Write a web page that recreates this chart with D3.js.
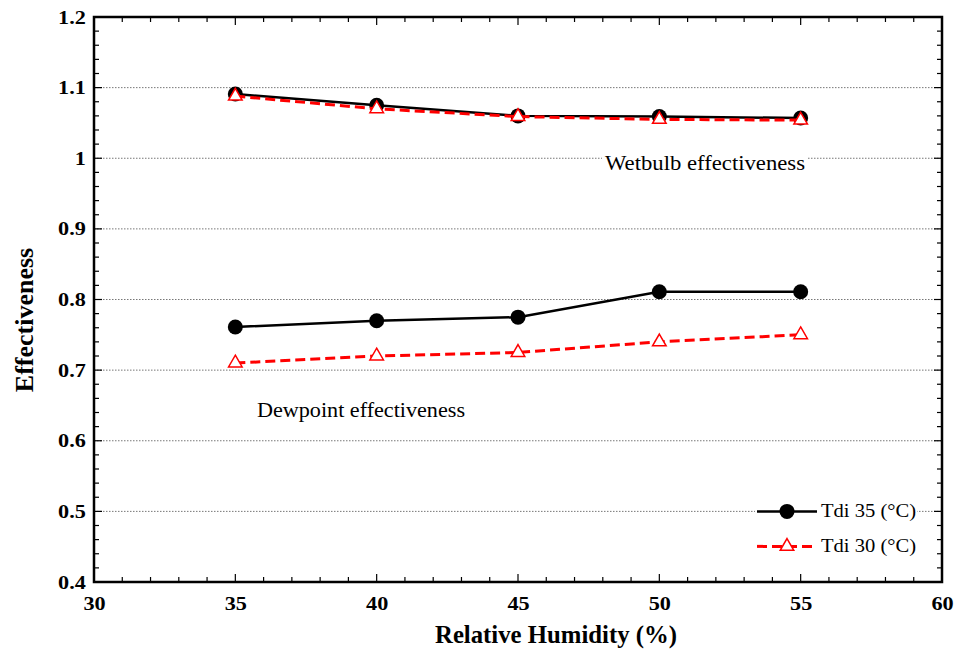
<!DOCTYPE html>
<html><head><meta charset="utf-8">
<script src="https://cdn.jsdelivr.net/npm/d3@7"></script>
<style>body{margin:0;background:#fff}</style>
</head><body>
<svg id="c" width="956" height="650"></svg>
<script>
const rh = [35, 40, 45, 50, 55];
const wetbulb35 = [1.091, 1.075, 1.060, 1.059, 1.057];
const wetbulb30 = [1.088, 1.070, 1.059, 1.055, 1.054];
const dewpoint35 = [0.761, 0.770, 0.775, 0.811, 0.811];
const dewpoint30 = [0.710, 0.720, 0.725, 0.740, 0.750];
const xTicks = [30, 35, 40, 45, 50, 55, 60];
const yTicks = [0.4, 0.5, 0.6, 0.7, 0.8, 0.9, 1, 1.1, 1.2];
const legendLabels = ["Tdi 35 (°C)", "Tdi 30 (°C)"];

const svg = d3.select("#c");
const L = 94, R = 942, T = 17, B = 582;
const x = d3.scaleLinear().domain([30, 60]).range([L, R]);
const y = d3.scaleLinear().domain([0.4, 1.2]).range([B, T]);
const font = "'Liberation Serif', 'Times New Roman', serif";
const DASH = "10,5";

// gridlines
svg.append("g").selectAll("line").data(yTicks.filter(v => v > 0.45 && v < 1.15)).join("line")
  .attr("x1", L).attr("x2", R).attr("y1", d => y(d)).attr("y2", d => y(d))
  .attr("stroke", "#777").attr("stroke-width", 1).attr("stroke-dasharray", "1.5,1.5");

// ticks
const xMinor = d3.range(30, 60.01, 1);
const yMinor = d3.range(0.4, 1.2001, 0.02);
(function tickLines(){
  const g = svg.append("g").attr("stroke", "#000").attr("stroke-width", 1.2);
  xMinor.forEach(v => {
    const len = (Math.round(v) % 5 === 0) ? 8 : 5;
    g.append("line").attr("x1", x(v)).attr("x2", x(v)).attr("y1", B).attr("y2", B - len);
    g.append("line").attr("x1", x(v)).attr("x2", x(v)).attr("y1", T).attr("y2", T + len);
  });
  yMinor.forEach(v => {
    const major = Math.abs(Math.round(v * 10) - v * 10) < 1e-6;
    const len = major ? 8 : 5;
    g.append("line").attr("y1", y(v)).attr("y2", y(v)).attr("x1", L).attr("x2", L + len);
    g.append("line").attr("y1", y(v)).attr("y2", y(v)).attr("x1", R).attr("x2", R - len);
  });
})();

// frame
svg.append("rect").attr("x", L).attr("y", T).attr("width", R - L).attr("height", B - T)
  .attr("fill", "none").attr("stroke", "#000").attr("stroke-width", 2.5);

// axes labels via d3 axes
const xAxis = d3.axisBottom(x).tickValues(xTicks).tickSize(0).tickPadding(15).tickFormat(d3.format("d"));
const gx = svg.append("g").attr("transform", `translate(0,${B})`).call(xAxis);
gx.select(".domain").remove();
gx.selectAll("text").attr("font-family", font).attr("font-size", 19).attr("font-weight", "bold")
  .attr("fill", "#000").attr("transform", "scale(1.17,1)");

const yAxis = d3.axisLeft(y).tickValues(yTicks).tickSize(0).tickPadding(7).tickFormat(d => d3.format("")(+d.toFixed(1)));
const gy = svg.append("g").attr("transform", `translate(${L},0)`).call(yAxis);
gy.select(".domain").remove();
gy.selectAll("text").attr("font-family", font).attr("font-size", 19).attr("font-weight", "bold")
  .attr("fill", "#000").attr("transform", "scale(1.17,1)");

// axis titles
svg.append("text").attr("x", 435).attr("y", 643)
  .attr("font-family", font).attr("font-size", 25).attr("font-weight", "bold")
  .attr("textLength", 242).attr("lengthAdjust", "spacingAndGlyphs").text("Relative Humidity (%)");
svg.append("text").attr("transform", `translate(33,320) rotate(-90)`).attr("text-anchor", "middle")
  .attr("font-family", font).attr("font-size", 26).attr("font-weight", "bold").text("Effectiveness");

// annotations
svg.append("rect").attr("x", 602).attr("y", 150).attr("width", 206).attr("height", 26).attr("fill", "#fff");
svg.append("text").attr("x", 605).attr("y", 170).attr("font-family", font).attr("font-size", 21)
  .attr("textLength", 200).attr("lengthAdjust", "spacingAndGlyphs").text("Wetbulb effectiveness");
svg.append("text").attr("x", 257).attr("y", 417).attr("font-family", font).attr("font-size", 21)
  .attr("textLength", 208).attr("lengthAdjust", "spacingAndGlyphs").text("Dewpoint effectiveness");

const line = d3.line().x((d, i) => x(rh[i])).y(d => y(d));
function drawSeries(vals, color, dash, marker){
  svg.append("path").datum(vals).attr("d", line).attr("fill", "none")
    .attr("stroke", color).attr("stroke-width", dash ? 3 : 2.5).attr("stroke-dasharray", dash);
  const g = svg.append("g");
  vals.forEach((v, i) => {
    if (marker === "circle") {
      g.append("circle").attr("cx", x(rh[i])).attr("cy", y(v)).attr("r", 7.5).attr("fill", "#000");
    } else {
      g.append("path").attr("d", d3.symbol(d3.symbolTriangle, 80)())
        .attr("transform", `translate(${x(rh[i])},${y(v)})`)
        .attr("fill", "#fff").attr("stroke", "red").attr("stroke-width", 1.5);
    }
  });
}
drawSeries(wetbulb35, "#000", null, "circle");
drawSeries(wetbulb30, "red", DASH, "triangle");
drawSeries(dewpoint35, "#000", null, "circle");
drawSeries(dewpoint30, "red", DASH, "triangle");

// legend
const legY = [y(0.5), y(0.5) + 35];
svg.append("rect").attr("x", 755).attr("y", legY[0] - 12).attr("width", 162).attr("height", 24).attr("fill", "#fff");
const leg = svg.append("g");
[["#000", null, "circle"], ["red", DASH, "triangle"]].forEach((s, i) => {
  const yy = legY[i];
  leg.append("line").attr("x1", 757).attr("x2", 817).attr("y1", yy).attr("y2", yy)
    .attr("stroke", s[0]).attr("stroke-width", s[1] ? 3 : 2.5).attr("stroke-dasharray", s[1]);
  if (s[2] === "circle") leg.append("circle").attr("cx", 787).attr("cy", yy).attr("r", 7.5).attr("fill", "#000");
  else leg.append("path").attr("d", d3.symbol(d3.symbolTriangle, 80)()).attr("transform", `translate(787,${yy})`)
    .attr("fill", "#fff").attr("stroke", "red").attr("stroke-width", 1.5);
  leg.append("text").attr("x", 821).attr("y", yy + 6).attr("font-family", font).attr("font-size", 19)
    .attr("textLength", 95).attr("lengthAdjust", "spacingAndGlyphs").text(legendLabels[i]);
});
</script>
</body></html>
